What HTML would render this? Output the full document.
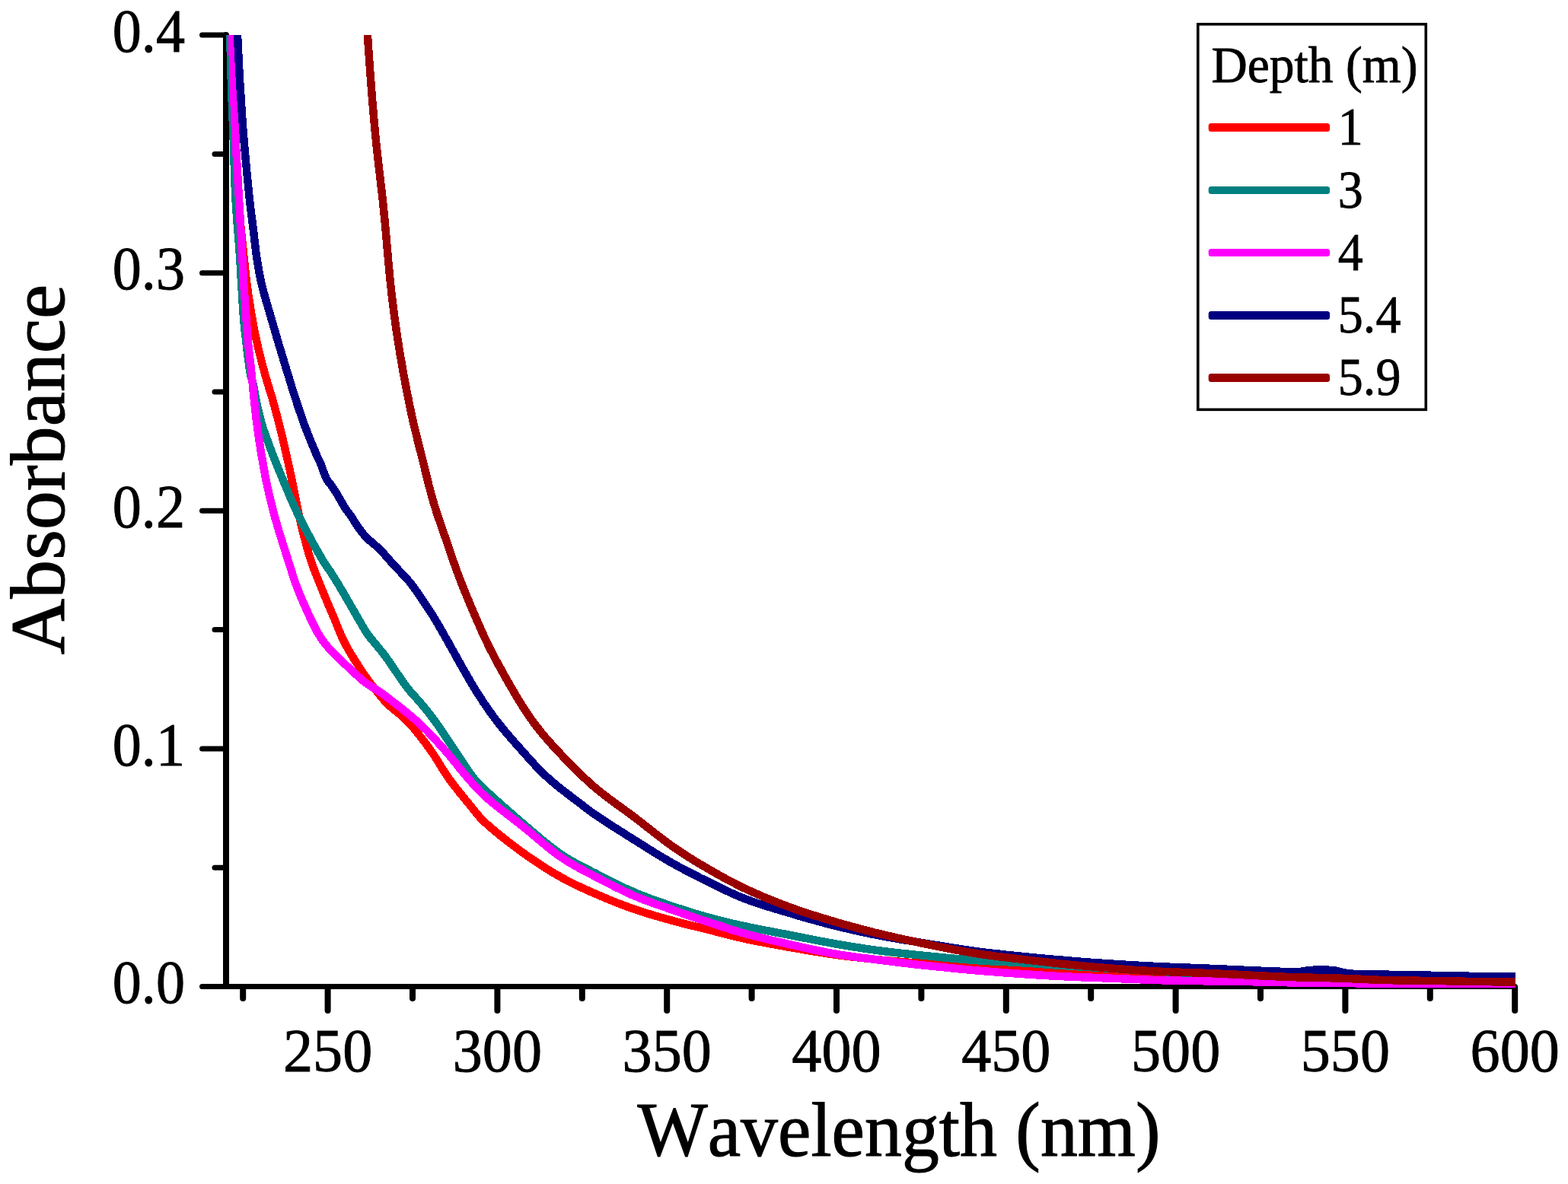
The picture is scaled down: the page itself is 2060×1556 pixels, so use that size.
<!DOCTYPE html>
<html lang="en"><head><meta charset="utf-8"><title>Absorbance vs Wavelength</title>
<style>
html,body{margin:0;padding:0;background:#fff;}
body{width:2060px;height:1556px;overflow:hidden;}
svg{display:block;font-family:"Liberation Serif",serif;fill:#000;font-kerning:none;}
.ax{stroke:#000;stroke-linecap:round;fill:none}
.axv{stroke-width:8}
.axh{stroke-width:7}
.cv{fill:none;stroke-width:10.5;stroke-linejoin:round;stroke-linecap:butt}
.tl{font-size:81.3px;stroke:#000;stroke-width:0.9px}
.lg{font-size:67.7px;stroke:#000;stroke-width:0.8px}
.ll{font-size:69.6px;stroke:#000;stroke-width:0.8px}
.at{font-size:101px;stroke:#000;stroke-width:1.1px}
</style></head><body>
<svg width="2060" height="1556" viewBox="0 0 2060 1556">
<rect width="2060" height="1556" fill="#fff"/>
<defs><clipPath id="plot"><rect x="297.0" y="46.0" width="1694.0" height="1252.0"/></clipPath></defs>
<g class="ax axv"><path d="M297.0 46.0 V1295.5"/></g>
<g class="ax axh"><path d="M297.0 1296.5 H1990.2"/></g>
<g class="ax axh">
<path d="M296.0 1296.5 H265.5"/>
<path d="M296.0 1140.2 H282.0"/>
<path d="M296.0 983.9 H265.5"/>
<path d="M296.0 827.6 H282.0"/>
<path d="M296.0 671.3 H265.5"/>
<path d="M296.0 515.0 H282.0"/>
<path d="M296.0 358.7 H265.5"/>
<path d="M296.0 202.4 H282.0"/>
<path d="M296.0 46.1 H265.5"/>
</g>
<g class="ax axv">
<path d="M319.2 1297.5 V1312.0"/>
<path d="M430.6 1297.5 V1328.0"/>
<path d="M542.0 1297.5 V1312.0"/>
<path d="M653.4 1297.5 V1328.0"/>
<path d="M764.8 1297.5 V1312.0"/>
<path d="M876.2 1297.5 V1328.0"/>
<path d="M987.6 1297.5 V1312.0"/>
<path d="M1099.0 1297.5 V1328.0"/>
<path d="M1210.4 1297.5 V1312.0"/>
<path d="M1321.8 1297.5 V1328.0"/>
<path d="M1433.2 1297.5 V1312.0"/>
<path d="M1544.6 1297.5 V1328.0"/>
<path d="M1656.0 1297.5 V1312.0"/>
<path d="M1767.4 1297.5 V1328.0"/>
<path d="M1878.8 1297.5 V1312.0"/>
<path d="M1990.2 1297.5 V1328.0"/>
</g>
<text class="tl" transform="translate(243.0 1318.2) scale(0.9370 1)" text-anchor="end">0.0</text>
<text class="tl" transform="translate(243.0 1005.6) scale(0.9370 1)" text-anchor="end">0.1</text>
<text class="tl" transform="translate(243.0 693.0) scale(0.9370 1)" text-anchor="end">0.2</text>
<text class="tl" transform="translate(243.0 380.4) scale(0.9370 1)" text-anchor="end">0.3</text>
<text class="tl" transform="translate(243.0 67.8) scale(0.9370 1)" text-anchor="end">0.4</text>
<text class="tl" transform="translate(430.6 1408.0) scale(0.9620 1)" text-anchor="middle">250</text>
<text class="tl" transform="translate(653.4 1408.0) scale(0.9620 1)" text-anchor="middle">300</text>
<text class="tl" transform="translate(876.2 1408.0) scale(0.9620 1)" text-anchor="middle">350</text>
<text class="tl" transform="translate(1099.0 1408.0) scale(0.9620 1)" text-anchor="middle">400</text>
<text class="tl" transform="translate(1321.8 1408.0) scale(0.9620 1)" text-anchor="middle">450</text>
<text class="tl" transform="translate(1544.6 1408.0) scale(0.9620 1)" text-anchor="middle">500</text>
<text class="tl" transform="translate(1767.4 1408.0) scale(0.9620 1)" text-anchor="middle">550</text>
<text class="tl" transform="translate(1990.2 1408.0) scale(0.9620 1)" text-anchor="middle">600</text>
<text class="at" transform="translate(837.4 1519.4) scale(0.9685 1)">Wavelength (nm)</text>
<text class="at" transform="translate(84.3 860.2) rotate(-90) scale(1.0085 1)">Absorbance</text>
<g clip-path="url(#plot)" shape-rendering="crispEdges">
<path class="cv" stroke="#ff0000" d="M302.5 20.0 302.9 25.0 303.2 30.0 303.5 35.0 303.7 40.0 304.0 45.0 304.1 50.0 304.3 55.0 304.4 59.9 304.6 64.9 304.7 69.9 304.9 74.9 305.0 79.9 305.1 84.9 305.3 89.9 305.4 94.9 305.6 99.9 305.7 104.9 305.9 109.9 306.1 114.9 306.3 119.9 306.4 124.9 306.6 129.9 306.8 134.9 307.0 139.9 307.2 144.9 307.4 149.9 307.6 154.9 307.8 159.9 308.1 164.9 308.3 169.9 308.5 174.9 308.7 179.9 309.0 184.9 309.2 189.9 309.5 194.9 309.7 199.8 310.0 204.8 310.2 209.8 310.5 214.8 310.7 219.8 311.0 224.8 311.3 229.8 311.6 234.8 311.9 239.8 312.1 244.8 312.4 249.8 312.8 254.8 313.1 259.7 313.4 264.7 313.8 269.7 314.2 274.7 314.6 279.7 315.1 284.7 315.6 289.6 316.0 294.6 316.5 299.6 317.0 304.6 317.5 309.6 318.0 314.5 318.5 319.5 319.1 324.5 319.6 329.4 320.1 334.4 320.7 339.4 321.2 344.4 321.7 349.3 322.2 354.3 322.7 359.3 323.3 364.2 323.9 369.2 324.5 374.2 325.2 379.1 325.8 384.1 326.6 389.0 327.3 394.0 328.1 398.9 328.9 403.9 329.7 408.8 330.5 413.7 331.4 418.6 332.2 423.6 333.1 428.5 334.1 433.4 335.1 438.3 336.1 443.2 337.1 448.1 338.3 453.0 339.4 457.8 340.6 462.7 341.8 467.5 343.0 472.4 344.2 477.2 345.5 482.1 346.8 486.9 348.1 491.7 349.4 496.5 350.9 501.3 352.3 506.1 353.8 510.9 355.3 515.7 356.8 520.4 358.2 525.2 359.5 530.1 360.8 534.9 362.1 539.7 363.4 544.5 364.7 549.4 365.9 554.2 367.2 559.1 368.4 563.9 369.6 568.8 370.7 573.6 371.9 578.5 373.0 583.4 374.1 588.2 375.2 593.1 376.3 598.0 377.4 602.9 378.5 607.8 379.6 612.6 380.7 617.5 381.7 622.4 382.8 627.3 383.8 632.2 384.8 637.1 385.8 642.0 386.7 646.9 387.7 651.8 388.6 656.7 389.6 661.6 390.6 666.5 391.6 671.4 392.6 676.3 393.7 681.2 394.8 686.1 396.0 690.9 397.2 695.8 398.4 700.6 399.6 705.5 400.9 710.3 402.1 715.2 403.4 720.0 404.8 724.8 406.2 729.6 407.7 734.4 409.3 739.1 411.0 743.8 412.7 748.5 414.5 753.2 416.3 757.8 418.2 762.5 420.0 767.1 421.9 771.8 423.8 776.4 425.7 781.0 427.6 785.6 429.5 790.2 431.5 794.8 433.4 799.4 435.4 804.0 437.4 808.6 439.3 813.3 441.2 817.9 443.0 822.5 444.9 827.2 446.8 831.8 448.8 836.4 450.9 840.9 453.1 845.4 455.5 849.8 457.9 854.2 460.5 858.5 463.1 862.7 465.7 867.0 468.4 871.2 471.1 875.4 473.8 879.6 476.6 883.8 479.4 887.9 482.3 892.0 485.3 896.0 488.3 900.0 491.4 903.9 494.4 907.9 497.5 911.8 500.6 915.7 503.9 919.5 507.3 923.2 510.8 926.7 514.5 930.0 518.4 933.2 522.3 936.4 526.2 939.5 529.9 942.8 533.6 946.2 537.1 949.8 540.4 953.5 543.7 957.3 546.9 961.2 550.0 965.1 553.1 969.0 556.1 973.0 559.2 976.9 562.1 981.0 565.1 985.0 567.9 989.1 570.7 993.3 573.4 997.5 576.0 1001.7 578.6 1006.0 581.2 1010.3 583.9 1014.5 586.7 1018.7 589.5 1022.8 592.5 1026.8 595.5 1030.8 598.5 1034.8 601.6 1038.7 604.7 1042.6 607.9 1046.5 611.0 1050.4 614.2 1054.3 617.4 1058.1 620.5 1062.0 623.6 1065.9 626.7 1069.8 630.0 1073.6 633.4 1077.3 637.0 1080.8 640.7 1084.1 644.5 1087.4 648.3 1090.6 652.1 1093.8 656.0 1097.0 659.9 1100.1 663.8 1103.2 667.8 1106.3 671.8 1109.3 675.7 1112.3 679.7 1115.3 683.8 1118.3 687.8 1121.2 691.9 1124.1 696.0 1127.0 700.1 1129.8 704.3 1132.6 708.4 1135.4 712.6 1138.1 716.8 1140.8 721.1 1143.4 725.3 1146.1 729.6 1148.6 734.0 1151.1 738.3 1153.6 742.7 1156.0 747.1 1158.3 751.6 1160.5 756.1 1162.8 760.6 1164.9 765.1 1167.0 769.7 1169.1 774.2 1171.1 778.8 1173.1 783.4 1175.1 788.0 1177.1 792.6 1179.1 797.2 1181.0 801.8 1182.9 806.5 1184.8 811.1 1186.6 815.8 1188.4 820.5 1190.2 825.2 1191.9 829.9 1193.6 834.6 1195.2 839.3 1196.8 844.1 1198.4 848.8 1199.9 853.6 1201.4 858.4 1202.8 863.2 1204.2 868.0 1205.6 872.8 1206.9 877.6 1208.3 882.5 1209.6 887.3 1210.9 892.1 1212.2 896.9 1213.5 901.8 1214.7 906.6 1215.9 911.5 1217.1 916.4 1218.3 921.2 1219.5 926.1 1220.7 930.9 1221.9 935.8 1223.1 940.6 1224.4 945.4 1225.6 950.3 1226.9 955.1 1228.1 960.0 1229.4 964.8 1230.6 969.7 1231.7 974.6 1232.8 979.4 1233.9 984.3 1235.0 989.2 1236.0 994.1 1236.9 999.1 1237.9 1004.0 1238.8 1008.9 1239.7 1013.8 1240.6 1018.7 1241.5 1023.6 1242.4 1028.6 1243.3 1033.5 1244.2 1038.4 1245.0 1043.3 1245.9 1048.3 1246.7 1053.2 1247.6 1058.1 1248.5 1063.0 1249.3 1068.0 1250.1 1072.9 1250.9 1077.8 1251.7 1082.8 1252.5 1087.7 1253.3 1092.7 1254.0 1097.6 1254.7 1102.6 1255.4 1107.5 1256.0 1112.5 1256.7 1117.5 1257.3 1122.4 1257.9 1127.4 1258.4 1132.4 1259.0 1137.3 1259.5 1142.3 1260.1 1147.3 1260.6 1152.2 1261.1 1157.2 1261.6 1162.2 1262.0 1167.2 1262.5 1172.2 1263.0 1177.1 1263.4 1182.1 1263.8 1187.1 1264.2 1192.1 1264.6 1197.1 1265.0 1202.1 1265.4 1207.0 1265.7 1212.0 1266.1 1217.0 1266.5 1222.0 1266.8 1227.0 1267.2 1232.0 1267.5 1237.0 1267.8 1242.0 1268.1 1247.0 1268.5 1251.9 1268.8 1256.9 1269.1 1261.9 1269.4 1266.9 1269.7 1271.9 1270.0 1276.9 1270.3 1281.9 1270.6 1286.9 1270.9 1291.9 1271.2 1296.9 1271.5 1301.9 1271.8 1306.8 1272.1 1311.8 1272.4 1316.8 1272.7 1321.8 1273.0 1326.8 1273.3 1331.8 1273.6 1336.8 1273.9 1341.8 1274.2 1346.8 1274.5 1351.8 1274.8 1356.8 1275.1 1361.7 1275.4 1366.7 1275.7 1371.7 1276.0 1376.7 1276.3 1381.7 1276.6 1386.7 1276.9 1391.7 1277.2 1396.7 1277.5 1401.7 1277.8 1406.7 1278.1 1411.7 1278.3 1416.7 1278.6 1421.6 1278.9 1426.6 1279.1 1431.6 1279.4 1436.6 1279.6 1441.6 1279.9 1446.6 1280.1 1451.6 1280.4 1456.6 1280.6 1461.6 1280.8 1466.6 1281.0 1471.6 1281.2 1476.6 1281.4 1481.6 1281.6 1486.6 1281.8 1491.6 1282.0 1496.6 1282.2 1501.6 1282.3 1506.6 1282.5 1511.6 1282.7 1516.6 1282.9 1521.6 1283.1 1526.6 1283.2 1531.5 1283.4 1536.5 1283.6 1541.5 1283.8 1546.5 1284.0 1551.5 1284.2 1556.5 1284.3 1561.5 1284.5 1566.5 1284.7 1571.5 1284.9 1576.5 1285.1 1581.5 1285.2 1586.5 1285.4 1591.5 1285.6 1596.5 1285.8 1601.5 1285.9 1606.5 1286.1 1611.5 1286.3 1616.5 1286.4 1621.5 1286.6 1626.5 1286.7 1631.5 1286.9 1636.5 1287.0 1641.5 1287.1 1646.5 1287.3 1651.5 1287.4 1656.5 1287.5 1661.5 1287.7 1666.5 1287.8 1671.5 1287.9 1676.5 1288.1 1681.5 1288.2 1686.5 1288.3 1691.5 1288.4 1696.5 1288.5 1701.5 1288.6 1706.5 1288.7 1711.5 1288.8 1716.5 1288.9 1721.5 1289.0 1726.5 1289.1 1731.5 1289.1 1736.5 1289.2 1741.5 1289.3 1746.5 1289.3 1751.5 1289.4 1756.5 1289.5 1761.5 1289.5 1766.5 1289.6 1771.5 1289.6 1776.5 1289.7 1781.5 1289.7 1786.5 1289.8 1791.5 1289.8 1796.5 1289.8 1801.5 1289.9 1806.5 1289.9 1811.5 1290.0 1816.5 1290.0 1821.5 1290.0 1826.5 1290.1 1831.5 1290.1 1836.5 1290.1 1841.5 1290.2 1846.5 1290.2 1851.5 1290.2 1856.5 1290.3 1861.5 1290.3 1866.5 1290.3 1871.5 1290.3 1876.5 1290.4 1881.5 1290.4 1886.5 1290.4 1891.5 1290.5 1896.5 1290.5 1901.5 1290.5 1906.5 1290.5 1911.5 1290.6 1916.5 1290.6 1921.5 1290.6 1926.5 1290.6 1931.5 1290.7 1936.5 1290.7 1941.5 1290.7 1946.5 1290.8 1951.5 1290.8 1956.5 1290.8 1961.5 1290.8 1966.5 1290.9 1971.5 1290.9 1976.5 1290.9 1981.5 1290.9 1986.5 1291.0 1991.5 1291.0 1996.6 1291.0 2001.8 1291.1 2006.7 1291.1 2008.4 1291.1 2005.5 1291.1 2000.1 1291.0 2000.1 1291.0"/>
<path class="cv" stroke="#008080" d="M301.5 20.0 301.6 25.0 301.8 30.0 301.9 35.0 302.0 40.0 302.2 45.0 302.3 50.0 302.4 55.0 302.6 60.0 302.7 65.0 302.8 70.0 302.9 75.0 303.1 80.0 303.2 85.0 303.3 90.0 303.5 95.0 303.6 100.0 303.8 105.0 303.9 110.0 304.1 115.0 304.2 120.0 304.4 125.0 304.6 130.0 304.8 135.0 305.0 139.9 305.2 144.9 305.4 149.9 305.6 154.9 305.8 159.9 306.0 164.9 306.2 169.9 306.4 174.9 306.6 179.9 306.8 184.9 307.0 189.9 307.1 194.9 307.3 199.9 307.4 204.9 307.6 209.9 307.7 214.9 307.9 219.9 308.0 224.9 308.2 229.9 308.4 234.9 308.5 239.9 308.7 244.9 309.0 249.9 309.2 254.9 309.4 259.9 309.7 264.9 310.0 269.8 310.4 274.8 310.7 279.8 311.1 284.8 311.4 289.8 311.8 294.8 312.2 299.8 312.6 304.8 313.0 309.7 313.4 314.7 313.8 319.7 314.2 324.7 314.5 329.7 314.9 334.7 315.2 339.7 315.5 344.6 315.9 349.6 316.2 354.6 316.4 359.6 316.7 364.6 317.0 369.6 317.3 374.6 317.6 379.6 317.9 384.6 318.2 389.6 318.5 394.6 318.8 399.5 319.1 404.5 319.4 409.5 319.8 414.5 320.2 419.5 320.6 424.5 321.1 429.5 321.6 434.4 322.2 439.4 322.8 444.4 323.4 449.3 323.9 454.3 324.5 459.3 325.1 464.2 325.7 469.2 326.4 474.1 327.0 479.1 327.7 484.1 328.4 489.0 329.4 493.9 330.8 498.7 332.2 503.5 333.4 508.3 334.2 513.3 335.1 518.2 336.0 523.1 336.9 528.0 338.0 532.9 339.1 537.8 340.2 542.6 341.4 547.5 342.7 552.4 344.0 557.2 345.4 562.0 347.0 566.7 348.8 571.4 350.5 576.1 352.2 580.8 353.9 585.5 355.6 590.2 357.3 594.9 359.1 599.5 361.0 604.2 362.8 608.8 364.7 613.5 366.6 618.1 368.5 622.7 370.4 627.4 372.3 632.0 374.2 636.6 376.1 641.2 378.1 645.8 380.0 650.4 382.0 655.0 384.0 659.6 386.0 664.2 388.1 668.7 390.2 673.2 392.4 677.8 394.6 682.2 396.8 686.7 399.1 691.1 401.4 695.6 403.8 700.0 406.1 704.4 408.5 708.8 410.9 713.2 413.3 717.6 415.8 721.9 418.2 726.3 420.7 730.6 423.2 734.9 425.8 739.2 428.6 743.4 431.5 747.5 434.3 751.6 437.0 755.8 439.6 760.0 442.3 764.3 444.9 768.6 447.4 772.9 450.0 777.2 452.5 781.5 455.0 785.8 457.5 790.1 460.0 794.5 462.5 798.8 465.0 803.1 467.5 807.5 470.0 811.8 472.5 816.1 475.0 820.5 477.4 824.8 480.0 829.1 482.8 833.3 485.8 837.3 488.9 841.1 492.1 845.0 495.3 848.8 498.5 852.7 501.7 856.5 504.8 860.5 507.8 864.5 510.6 868.6 513.5 872.7 516.3 876.8 519.1 880.9 521.9 885.1 524.7 889.2 527.5 893.4 530.4 897.5 533.3 901.5 536.4 905.5 539.6 909.3 542.9 913.0 546.3 916.7 549.7 920.4 552.9 924.2 556.1 928.1 559.3 931.9 562.4 935.8 565.5 939.8 568.5 943.8 571.5 947.8 574.4 951.8 577.2 955.9 580.1 960.1 582.9 964.2 585.6 968.4 588.4 972.5 591.2 976.7 594.0 980.8 596.8 985.0 599.6 989.1 602.3 993.3 605.1 997.5 607.9 1001.6 610.6 1005.8 613.4 1010.0 616.2 1014.1 619.1 1018.2 622.1 1022.2 625.2 1026.1 628.5 1029.8 632.1 1033.3 635.8 1036.7 639.5 1040.1 643.1 1043.5 646.8 1046.9 650.5 1050.2 654.3 1053.6 658.0 1056.9 661.7 1060.2 665.5 1063.5 669.2 1066.8 673.0 1070.1 676.7 1073.4 680.5 1076.7 684.3 1079.9 688.1 1083.2 691.9 1086.4 695.7 1089.7 699.5 1092.9 703.3 1096.2 707.2 1099.4 711.0 1102.6 714.8 1105.8 718.7 1108.9 722.6 1112.1 726.6 1115.1 730.6 1118.1 734.7 1121.0 738.8 1123.8 743.0 1126.6 747.2 1129.2 751.6 1131.7 755.9 1134.2 760.3 1136.5 764.7 1138.9 769.2 1141.1 773.6 1143.4 778.1 1145.7 782.6 1147.9 787.0 1150.2 791.5 1152.5 795.9 1154.8 800.4 1157.1 804.8 1159.3 809.3 1161.5 813.8 1163.7 818.3 1165.9 822.9 1168.0 827.4 1170.0 832.0 1172.0 836.6 1174.0 841.2 1175.9 845.9 1177.7 850.5 1179.5 855.2 1181.3 859.9 1183.0 864.6 1184.6 869.4 1186.3 874.1 1187.9 878.8 1189.5 883.6 1191.1 888.3 1192.7 893.1 1194.2 897.8 1195.8 902.6 1197.3 907.3 1198.8 912.1 1200.3 916.9 1201.7 921.7 1203.1 926.5 1204.5 931.3 1205.8 936.2 1207.1 941.0 1208.4 945.8 1209.6 950.7 1210.8 955.6 1212.0 960.4 1213.2 965.3 1214.3 970.2 1215.4 975.1 1216.5 979.9 1217.5 984.8 1218.6 989.7 1219.6 994.6 1220.6 999.5 1221.5 1004.4 1222.5 1009.4 1223.4 1014.3 1224.4 1019.2 1225.3 1024.1 1226.3 1029.0 1227.2 1033.9 1228.1 1038.8 1229.1 1043.7 1230.0 1048.6 1231.0 1053.5 1232.0 1058.4 1232.9 1063.3 1233.9 1068.3 1234.9 1073.2 1235.8 1078.1 1236.8 1083.0 1237.7 1087.9 1238.6 1092.8 1239.5 1097.7 1240.4 1102.7 1241.3 1107.6 1242.1 1112.5 1242.9 1117.5 1243.7 1122.4 1244.5 1127.3 1245.3 1132.3 1246.1 1137.2 1246.8 1142.2 1247.5 1147.1 1248.2 1152.1 1248.9 1157.0 1249.6 1162.0 1250.2 1167.0 1250.8 1171.9 1251.4 1176.9 1252.0 1181.9 1252.5 1186.8 1253.1 1191.8 1253.6 1196.8 1254.1 1201.7 1254.6 1206.7 1255.1 1211.7 1255.6 1216.7 1256.1 1221.6 1256.6 1226.6 1257.1 1231.6 1257.6 1236.6 1258.1 1241.5 1258.6 1246.5 1259.1 1251.5 1259.6 1256.5 1260.0 1261.5 1260.5 1266.4 1260.9 1271.4 1261.3 1276.4 1261.7 1281.4 1262.1 1286.4 1262.4 1291.4 1262.7 1296.4 1263.0 1301.4 1263.3 1306.4 1263.5 1311.3 1263.7 1316.3 1263.9 1321.3 1264.1 1326.3 1264.4 1331.3 1264.6 1336.3 1264.9 1341.3 1265.2 1346.3 1265.5 1351.3 1265.9 1356.3 1266.2 1361.3 1266.6 1366.2 1266.9 1371.2 1267.3 1376.2 1267.7 1381.2 1268.0 1386.2 1268.4 1391.2 1268.7 1396.2 1269.1 1401.2 1269.4 1406.2 1269.7 1411.1 1270.0 1416.1 1270.3 1421.1 1270.6 1426.1 1270.9 1431.1 1271.1 1436.1 1271.4 1441.1 1271.7 1446.1 1272.0 1451.1 1272.3 1456.1 1272.6 1461.1 1272.9 1466.0 1273.2 1471.0 1273.5 1476.0 1273.9 1481.0 1274.2 1486.0 1274.5 1491.0 1274.8 1496.0 1275.1 1501.0 1275.5 1506.0 1275.8 1511.0 1276.1 1515.9 1276.4 1520.9 1276.7 1525.9 1276.9 1530.9 1277.2 1535.9 1277.5 1540.9 1277.8 1545.9 1278.1 1550.9 1278.4 1555.9 1278.7 1560.9 1279.0 1565.9 1279.2 1570.9 1279.5 1575.8 1279.8 1580.8 1280.1 1585.8 1280.4 1590.8 1280.6 1595.8 1280.9 1600.8 1281.2 1605.8 1281.5 1610.8 1281.7 1615.8 1282.0 1620.8 1282.2 1625.8 1282.5 1630.8 1282.7 1635.8 1283.0 1640.8 1283.2 1645.8 1283.4 1650.7 1283.7 1655.7 1283.9 1660.7 1284.2 1665.7 1284.4 1670.7 1284.7 1675.7 1284.9 1680.7 1285.2 1685.7 1285.4 1690.7 1285.6 1695.7 1285.9 1700.7 1286.1 1705.7 1286.3 1710.7 1286.5 1715.7 1286.6 1720.7 1286.8 1725.7 1287.0 1730.7 1287.2 1735.7 1287.3 1740.7 1287.5 1745.7 1287.6 1750.7 1287.8 1755.7 1287.9 1760.7 1288.0 1765.7 1288.1 1770.7 1288.3 1775.7 1288.4 1780.7 1288.5 1785.7 1288.6 1790.7 1288.7 1795.7 1288.8 1800.7 1288.9 1805.7 1289.0 1810.6 1289.1 1815.6 1289.2 1820.6 1289.3 1825.6 1289.4 1830.6 1289.4 1835.6 1289.5 1840.6 1289.6 1845.6 1289.7 1850.6 1289.8 1855.6 1289.9 1860.6 1290.0 1865.6 1290.0 1870.6 1290.1 1875.6 1290.2 1880.6 1290.3 1885.6 1290.4 1890.6 1290.4 1895.6 1290.5 1900.6 1290.6 1905.6 1290.7 1910.6 1290.8 1915.6 1290.8 1920.6 1290.9 1925.6 1291.0 1930.6 1291.1 1935.6 1291.1 1940.6 1291.2 1945.6 1291.3 1950.6 1291.4 1955.6 1291.4 1960.6 1291.5 1965.6 1291.6 1970.6 1291.7 1975.6 1291.8 1980.6 1291.8 1985.6 1291.9 1990.6 1292.0 1995.6 1292.1 2000.8 1292.2 2006.0 1292.2 2008.9 1292.3 2006.3 1292.2 2000.9 1292.0 2000.9 1292.0"/>
<path class="cv" stroke="#ff00ff" d="M303.4 20.0 303.8 25.0 304.2 30.0 304.5 35.0 304.7 40.0 305.0 44.9 305.1 49.9 305.3 54.9 305.4 59.9 305.5 64.9 305.7 69.9 305.8 74.9 305.9 79.9 306.0 84.9 306.1 89.9 306.3 94.9 306.4 99.9 306.6 104.9 306.7 109.9 306.9 114.9 307.0 119.9 307.2 124.9 307.4 129.9 307.6 134.9 307.8 139.9 307.9 144.9 308.1 149.9 308.3 154.9 308.5 159.9 308.8 164.9 309.0 169.9 309.2 174.9 309.4 179.9 309.7 184.9 309.9 189.9 310.2 194.9 310.4 199.8 310.7 204.8 311.0 209.8 311.3 214.8 311.6 219.8 311.9 224.8 312.2 229.8 312.4 234.8 312.7 239.8 313.0 244.8 313.3 249.8 313.6 254.8 313.9 259.7 314.2 264.7 314.5 269.7 314.8 274.7 315.1 279.7 315.4 284.7 315.6 289.7 315.9 294.7 316.2 299.7 316.5 304.7 316.8 309.7 317.0 314.7 317.3 319.6 317.6 324.6 317.9 329.6 318.1 334.6 318.4 339.6 318.7 344.6 318.9 349.6 319.2 354.6 319.4 359.6 319.7 364.6 320.0 369.6 320.3 374.6 320.7 379.6 321.0 384.5 321.4 389.5 321.8 394.5 322.2 399.5 322.5 404.5 322.9 409.5 323.3 414.5 323.6 419.4 324.0 424.4 324.3 429.4 324.7 434.4 325.0 439.4 325.5 444.4 325.9 449.4 326.4 454.3 327.0 459.3 327.5 464.3 328.1 469.2 328.6 474.2 329.2 479.2 329.8 484.1 330.3 489.1 330.8 494.1 331.3 499.1 331.8 504.0 332.3 509.0 332.7 514.0 333.2 519.0 333.7 523.9 334.3 528.9 334.8 533.9 335.3 538.9 335.9 543.8 336.5 548.8 337.0 553.8 337.7 558.7 338.3 563.7 339.0 568.6 339.7 573.6 340.5 578.5 341.2 583.5 342.0 588.4 342.8 593.3 343.6 598.3 344.5 603.2 345.3 608.1 346.2 613.1 347.1 618.0 348.0 622.9 348.9 627.8 349.9 632.7 350.9 637.6 352.0 642.5 353.1 647.4 354.2 652.2 355.4 657.1 356.6 662.0 357.8 666.8 359.0 671.7 360.3 676.5 361.6 681.3 363.0 686.1 364.4 690.9 365.8 695.7 367.2 700.5 368.7 705.3 370.2 710.1 371.7 714.8 373.2 719.6 374.7 724.4 376.2 729.1 377.8 733.9 379.3 738.6 380.8 743.4 382.3 748.2 383.8 752.9 385.3 757.7 386.9 762.4 388.5 767.2 390.3 771.9 392.1 776.5 393.9 781.2 395.9 785.8 397.8 790.4 399.9 794.9 401.9 799.5 404.0 804.1 406.0 808.6 408.1 813.2 410.3 817.7 412.5 822.2 414.7 826.6 417.1 831.0 419.7 835.3 422.4 839.5 425.3 843.6 428.4 847.5 431.6 851.4 434.9 855.1 438.3 858.7 441.9 862.3 445.5 865.7 449.1 869.1 452.8 872.5 456.5 875.9 460.2 879.3 463.8 882.7 467.5 886.1 471.1 889.6 474.8 892.9 478.7 896.1 482.7 899.0 487.0 901.7 491.3 904.3 495.5 906.9 499.7 909.7 503.7 912.6 507.7 915.6 511.7 918.6 515.6 921.7 519.6 924.7 523.5 927.8 527.5 930.9 531.4 934.1 535.2 937.2 539.1 940.4 542.9 943.6 546.7 946.9 550.4 950.3 554.0 953.7 557.6 957.2 561.2 960.7 564.6 964.3 568.1 967.9 571.5 971.6 574.8 975.3 578.2 979.0 581.5 982.7 584.9 986.5 588.1 990.2 591.4 994.0 594.5 997.9 597.7 1001.8 600.8 1005.7 603.9 1009.6 607.1 1013.5 610.3 1017.3 613.5 1021.1 616.8 1024.9 620.1 1028.7 623.4 1032.4 626.8 1036.1 630.2 1039.7 633.8 1043.2 637.5 1046.6 641.2 1049.9 645.0 1053.2 648.9 1056.4 652.8 1059.5 656.7 1062.6 660.6 1065.7 664.6 1068.7 668.5 1071.8 672.5 1074.9 676.4 1077.9 680.4 1081.0 684.3 1084.1 688.2 1087.2 692.1 1090.3 696.0 1093.5 699.8 1096.7 703.6 1100.0 707.4 1103.2 711.3 1106.4 715.1 1109.6 719.0 1112.8 722.8 1116.0 726.8 1119.0 730.8 1122.1 734.8 1125.0 738.9 1127.8 743.1 1130.6 747.4 1133.2 751.7 1135.7 756.0 1138.2 760.4 1140.6 764.8 1143.0 769.2 1145.3 773.7 1147.6 778.1 1149.9 782.5 1152.2 787.0 1154.5 791.4 1156.8 795.8 1159.2 800.3 1161.5 804.7 1163.7 809.2 1166.0 813.7 1168.2 818.2 1170.4 822.7 1172.5 827.2 1174.6 831.8 1176.7 836.4 1178.6 841.0 1180.5 845.7 1182.4 850.3 1184.1 855.0 1185.8 859.8 1187.5 864.5 1189.2 869.2 1190.8 873.9 1192.4 878.6 1194.1 883.4 1195.7 888.1 1197.4 892.8 1199.0 897.5 1200.7 902.3 1202.3 907.0 1203.9 911.7 1205.5 916.5 1207.1 921.2 1208.7 926.0 1210.2 930.7 1211.8 935.5 1213.4 940.2 1214.9 945.0 1216.5 949.7 1218.1 954.5 1219.6 959.2 1221.1 964.0 1222.6 968.8 1224.1 973.6 1225.5 978.4 1226.8 983.2 1228.1 988.1 1229.4 992.9 1230.6 997.8 1231.8 1002.6 1233.0 1007.5 1234.2 1012.3 1235.4 1017.2 1236.5 1022.1 1237.6 1027.0 1238.7 1031.8 1239.9 1036.7 1241.0 1041.6 1242.1 1046.5 1243.2 1051.3 1244.2 1056.2 1245.3 1061.1 1246.4 1066.0 1247.5 1070.9 1248.5 1075.8 1249.5 1080.7 1250.5 1085.6 1251.5 1090.5 1252.4 1095.4 1253.3 1100.3 1254.1 1105.3 1255.0 1110.2 1255.7 1115.2 1256.4 1120.1 1257.1 1125.1 1257.8 1130.0 1258.5 1135.0 1259.1 1139.9 1259.7 1144.9 1260.3 1149.9 1261.0 1154.8 1261.6 1159.8 1262.2 1164.8 1262.8 1169.7 1263.5 1174.7 1264.1 1179.6 1264.7 1184.6 1265.3 1189.6 1265.9 1194.5 1266.4 1199.5 1267.0 1204.5 1267.6 1209.4 1268.1 1214.4 1268.7 1219.4 1269.2 1224.4 1269.7 1229.3 1270.2 1234.3 1270.7 1239.3 1271.2 1244.3 1271.7 1249.2 1272.2 1254.2 1272.7 1259.2 1273.2 1264.2 1273.7 1269.1 1274.1 1274.1 1274.6 1279.1 1275.0 1284.1 1275.5 1289.1 1275.9 1294.0 1276.3 1299.0 1276.7 1304.0 1277.1 1309.0 1277.5 1314.0 1277.9 1319.0 1278.3 1324.0 1278.7 1328.9 1279.0 1333.9 1279.4 1338.9 1279.7 1343.9 1280.1 1348.9 1280.4 1353.9 1280.7 1358.9 1281.1 1363.9 1281.4 1368.9 1281.7 1373.8 1282.0 1378.8 1282.3 1383.8 1282.5 1388.8 1282.8 1393.8 1283.1 1398.8 1283.3 1403.8 1283.5 1408.8 1283.8 1413.8 1284.0 1418.8 1284.2 1423.8 1284.4 1428.8 1284.5 1433.8 1284.7 1438.8 1284.9 1443.8 1285.1 1448.8 1285.3 1453.8 1285.5 1458.8 1285.7 1463.8 1285.9 1468.8 1286.1 1473.7 1286.3 1478.7 1286.5 1483.7 1286.7 1488.7 1286.9 1493.7 1287.1 1498.7 1287.3 1503.7 1287.5 1508.7 1287.7 1513.7 1287.9 1518.7 1288.1 1523.7 1288.2 1528.7 1288.3 1533.7 1288.5 1538.7 1288.6 1543.7 1288.7 1548.7 1288.7 1553.7 1288.8 1558.7 1288.9 1563.7 1289.0 1568.7 1289.0 1573.7 1289.1 1578.7 1289.2 1583.7 1289.3 1588.7 1289.4 1593.7 1289.4 1598.7 1289.5 1603.7 1289.6 1608.7 1289.7 1613.7 1289.7 1618.7 1289.8 1623.7 1289.9 1628.7 1290.0 1633.7 1290.1 1638.7 1290.1 1643.7 1290.2 1648.7 1290.3 1653.7 1290.5 1658.7 1290.6 1663.7 1290.7 1668.7 1290.8 1673.7 1290.9 1678.7 1291.0 1683.7 1291.1 1688.7 1291.2 1693.7 1291.3 1698.7 1291.4 1703.7 1291.4 1708.7 1291.5 1713.7 1291.5 1718.7 1291.6 1723.7 1291.7 1728.7 1291.7 1733.7 1291.7 1738.7 1291.8 1743.7 1291.8 1748.7 1291.9 1753.7 1291.9 1758.7 1292.0 1763.7 1292.0 1768.7 1292.1 1773.7 1292.2 1778.7 1292.2 1783.7 1292.3 1788.7 1292.3 1793.7 1292.4 1798.7 1292.4 1803.7 1292.5 1808.7 1292.5 1813.7 1292.6 1818.7 1292.6 1823.7 1292.6 1828.7 1292.7 1833.7 1292.7 1838.7 1292.7 1843.7 1292.7 1848.7 1292.7 1853.7 1292.7 1858.7 1292.7 1863.7 1292.8 1868.7 1292.8 1873.7 1292.8 1878.7 1292.8 1883.7 1292.8 1888.7 1292.8 1893.7 1292.8 1898.7 1292.8 1903.7 1292.8 1908.7 1292.8 1913.7 1292.8 1918.7 1292.8 1923.7 1292.8 1928.7 1292.8 1933.7 1292.8 1938.7 1292.8 1943.7 1292.8 1948.7 1292.8 1953.7 1292.8 1958.7 1292.8 1963.7 1292.8 1968.7 1292.8 1973.7 1292.8 1978.7 1292.8 1983.7 1292.8 1988.7 1292.8 1993.7 1292.8 1998.2 1292.8 2000.6 1292.8"/>
<path class="cv" stroke="#000080" d="M310.3 20.0 310.6 25.0 311.0 30.0 311.3 35.0 311.6 40.0 311.9 44.9 312.2 49.9 312.4 54.9 312.7 59.9 312.9 64.9 313.2 69.9 313.4 74.9 313.7 79.9 313.9 84.9 314.2 89.9 314.5 94.9 314.7 99.9 315.0 104.9 315.3 109.9 315.6 114.8 315.9 119.8 316.3 124.8 316.6 129.8 316.9 134.8 317.2 139.8 317.6 144.8 317.9 149.8 318.2 154.8 318.6 159.8 319.0 164.7 319.3 169.7 319.7 174.7 320.1 179.7 320.5 184.7 320.9 189.7 321.4 194.6 321.8 199.6 322.3 204.6 322.7 209.6 323.2 214.6 323.7 219.5 324.1 224.5 324.6 229.5 325.1 234.5 325.6 239.4 326.1 244.4 326.6 249.4 327.1 254.4 327.6 259.3 328.2 264.3 328.7 269.3 329.3 274.2 329.9 279.2 330.5 284.2 331.2 289.1 331.9 294.1 332.5 299.0 333.1 304.0 333.7 309.0 334.2 313.9 334.8 318.9 335.4 323.9 336.0 328.8 336.6 333.8 337.3 338.7 338.1 343.7 338.9 348.6 339.8 353.5 340.6 358.5 341.6 363.4 342.6 368.3 343.7 373.2 344.8 378.0 346.1 382.9 347.4 387.7 348.8 392.5 350.2 397.3 351.6 402.1 353.0 406.9 354.4 411.7 355.8 416.5 357.2 421.3 358.6 426.1 360.0 430.9 361.4 435.7 362.8 440.5 364.2 445.3 365.6 450.1 367.0 454.9 368.5 459.7 369.9 464.4 371.4 469.2 372.8 474.0 374.3 478.8 375.7 483.6 377.2 488.4 378.7 493.1 380.1 497.9 381.6 502.7 383.0 507.5 384.5 512.3 386.0 517.0 387.5 521.8 389.1 526.6 390.6 531.3 392.2 536.1 393.8 540.8 395.4 545.5 397.0 550.3 398.7 555.0 400.4 559.7 402.2 564.3 404.0 569.0 405.9 573.6 407.7 578.3 409.6 582.9 411.6 587.5 413.5 592.1 415.4 596.7 417.4 601.3 419.6 605.8 421.7 610.4 423.4 615.1 425.1 619.8 426.8 624.5 428.8 629.0 431.5 633.2 434.7 637.1 437.6 641.2 440.3 645.4 442.9 649.6 445.4 654.0 447.9 658.3 450.4 662.6 453.0 666.9 455.8 671.0 458.8 675.0 461.7 679.1 464.4 683.3 467.1 687.5 469.9 691.7 472.7 695.8 475.7 699.8 478.9 703.7 482.3 707.3 486.0 710.6 489.9 713.8 493.6 717.1 497.3 720.5 500.9 724.0 504.4 727.6 507.6 731.4 510.9 735.2 514.2 739.0 517.5 742.6 521.0 746.3 524.4 749.9 527.9 753.5 531.3 757.2 534.6 760.9 538.0 764.6 541.1 768.5 544.0 772.6 546.9 776.6 549.8 780.8 552.6 784.9 555.4 789.0 558.2 793.2 560.9 797.3 563.7 801.5 566.4 805.7 569.1 809.9 571.7 814.2 574.3 818.5 576.8 822.8 579.3 827.1 581.8 831.5 584.2 835.8 586.7 840.2 589.2 844.5 591.6 848.9 594.0 853.3 596.5 857.6 598.9 862.0 601.3 866.4 603.8 870.7 606.2 875.1 608.7 879.4 611.2 883.8 613.7 888.1 616.2 892.4 618.7 896.8 621.2 901.1 623.8 905.3 626.5 909.6 629.1 913.8 631.9 918.0 634.6 922.2 637.4 926.3 640.3 930.4 643.1 934.5 646.0 938.6 649.0 942.6 652.0 946.6 655.1 950.6 658.2 954.5 661.3 958.4 664.5 962.2 667.8 966.0 671.0 969.8 674.3 973.6 677.6 977.3 680.9 981.1 684.3 984.8 687.6 988.5 690.9 992.3 694.3 996.0 697.6 999.7 701.0 1003.4 704.4 1007.1 707.8 1010.7 711.3 1014.2 714.9 1017.7 718.6 1021.1 722.3 1024.5 726.1 1027.7 729.9 1030.9 733.8 1034.1 737.7 1037.2 741.7 1040.3 745.6 1043.3 749.6 1046.4 753.6 1049.4 757.6 1052.4 761.5 1055.4 765.5 1058.5 769.5 1061.6 773.4 1064.6 777.4 1067.6 781.5 1070.5 785.7 1073.2 789.8 1076.0 794.0 1078.7 798.2 1081.5 802.4 1084.2 806.6 1086.9 810.9 1089.6 815.1 1092.2 819.3 1094.9 823.5 1097.6 827.7 1100.3 832.0 1102.9 836.2 1105.6 840.5 1108.2 844.7 1110.9 848.9 1113.6 853.1 1116.2 857.4 1118.9 861.6 1121.5 865.9 1124.1 870.2 1126.7 874.5 1129.2 878.8 1131.8 883.1 1134.2 887.5 1136.7 891.9 1139.1 896.3 1141.5 900.7 1143.8 905.2 1146.1 909.6 1148.4 914.1 1150.6 918.5 1152.9 923.0 1155.1 927.5 1157.3 932.0 1159.5 936.5 1161.7 940.9 1164.0 945.4 1166.2 949.9 1168.4 954.4 1170.6 958.9 1172.7 963.5 1174.8 968.0 1176.8 972.7 1178.8 977.3 1180.6 982.0 1182.4 986.7 1184.1 991.4 1185.8 996.1 1187.4 1000.9 1188.9 1005.6 1190.5 1010.4 1191.9 1015.2 1193.4 1020.0 1194.8 1024.8 1196.3 1029.6 1197.7 1034.3 1199.1 1039.1 1200.5 1043.9 1202.0 1048.7 1203.4 1053.5 1204.8 1058.3 1206.2 1063.1 1207.5 1068.0 1208.9 1072.8 1210.2 1077.6 1211.5 1082.4 1212.8 1087.3 1214.1 1092.1 1215.3 1097.0 1216.6 1101.8 1217.8 1106.7 1218.9 1111.5 1220.1 1116.4 1221.2 1121.3 1222.3 1126.2 1223.4 1131.0 1224.5 1135.9 1225.5 1140.8 1226.6 1145.7 1227.6 1150.6 1228.5 1155.5 1229.5 1160.4 1230.5 1165.4 1231.4 1170.3 1232.3 1175.2 1233.1 1180.1 1234.0 1185.1 1234.8 1190.0 1235.6 1194.9 1236.4 1199.9 1237.2 1204.8 1238.0 1209.7 1238.8 1214.7 1239.6 1219.6 1240.4 1224.6 1241.2 1229.5 1242.0 1234.4 1242.8 1239.4 1243.6 1244.3 1244.4 1249.2 1245.2 1254.2 1246.0 1259.1 1246.7 1264.1 1247.5 1269.0 1248.2 1273.9 1249.0 1278.9 1249.6 1283.9 1250.3 1288.8 1251.0 1293.8 1251.6 1298.7 1252.2 1303.7 1252.7 1308.7 1253.3 1313.6 1253.8 1318.6 1254.4 1323.6 1254.9 1328.6 1255.4 1333.5 1255.9 1338.5 1256.4 1343.5 1256.9 1348.5 1257.4 1353.4 1257.9 1358.4 1258.4 1363.4 1258.9 1368.4 1259.3 1373.3 1259.8 1378.3 1260.2 1383.3 1260.7 1388.3 1261.1 1393.3 1261.5 1398.3 1261.9 1403.2 1262.4 1408.2 1262.8 1413.2 1263.2 1418.2 1263.6 1423.2 1264.0 1428.2 1264.4 1433.1 1264.8 1438.1 1265.1 1443.1 1265.5 1448.1 1265.8 1453.1 1266.2 1458.1 1266.5 1463.1 1266.8 1468.1 1267.1 1473.0 1267.5 1478.0 1267.7 1483.0 1268.0 1488.0 1268.3 1493.0 1268.6 1498.0 1268.9 1503.0 1269.1 1508.0 1269.4 1513.0 1269.7 1518.0 1269.9 1523.0 1270.1 1528.0 1270.4 1533.0 1270.6 1538.0 1270.8 1543.0 1271.0 1548.0 1271.2 1553.0 1271.3 1557.9 1271.5 1562.9 1271.7 1567.9 1271.9 1572.9 1272.1 1577.9 1272.3 1582.9 1272.5 1587.9 1272.7 1592.9 1272.9 1597.9 1273.2 1602.9 1273.4 1607.9 1273.6 1612.9 1273.8 1617.9 1274.1 1622.9 1274.3 1627.9 1274.5 1632.9 1274.7 1637.9 1275.0 1642.9 1275.2 1647.9 1275.4 1652.9 1275.6 1657.9 1275.8 1662.9 1276.0 1667.8 1276.2 1672.8 1276.4 1677.8 1276.6 1682.8 1276.8 1687.8 1277.0 1692.8 1277.1 1697.8 1277.2 1702.8 1277.3 1707.8 1277.1 1712.7 1276.3 1717.6 1275.2 1722.6 1274.8 1727.6 1274.7 1732.6 1274.6 1737.6 1274.6 1742.6 1274.7 1747.6 1274.8 1752.6 1275.1 1757.4 1276.2 1762.2 1277.5 1767.1 1278.6 1772.1 1279.4 1777.0 1279.7 1782.0 1279.9 1787.0 1280.1 1792.0 1280.2 1797.0 1280.2 1802.0 1280.3 1807.0 1280.4 1812.0 1280.5 1817.0 1280.6 1822.0 1280.7 1827.0 1280.8 1832.0 1280.9 1837.0 1281.0 1842.0 1281.1 1847.0 1281.2 1852.0 1281.3 1857.0 1281.4 1862.0 1281.5 1867.0 1281.6 1872.0 1281.7 1877.0 1281.7 1882.0 1281.8 1887.0 1281.9 1892.0 1282.0 1897.0 1282.1 1902.0 1282.2 1907.0 1282.3 1912.0 1282.4 1917.0 1282.5 1922.0 1282.6 1927.0 1282.7 1932.0 1282.8 1937.0 1282.8 1942.0 1282.9 1947.0 1282.9 1952.0 1282.9 1957.0 1283.0 1962.0 1283.0 1967.0 1283.0 1972.0 1283.0 1977.0 1283.0 1982.0 1283.1 1987.0 1283.1 1992.0 1283.1 1997.0 1283.1 1999.0 1283.1"/>
<path class="cv" stroke="#990000" d="M481.2 20.0 481.5 25.0 481.8 30.0 482.2 35.0 482.5 40.0 482.8 44.9 483.2 49.9 483.5 54.9 483.8 59.9 484.2 64.9 484.5 69.9 484.9 74.9 485.2 79.9 485.6 84.9 486.0 89.8 486.3 94.8 486.7 99.8 487.1 104.8 487.5 109.8 487.8 114.8 488.2 119.8 488.6 124.7 489.0 129.7 489.4 134.7 489.9 139.7 490.3 144.7 490.7 149.7 491.1 154.6 491.6 159.6 492.0 164.6 492.5 169.6 492.9 174.5 493.4 179.5 493.9 184.5 494.4 189.5 495.0 194.4 495.5 199.4 496.1 204.4 496.6 209.4 497.2 214.3 497.7 219.3 498.3 224.3 498.9 229.2 499.5 234.2 500.1 239.2 500.6 244.1 501.2 249.1 501.8 254.1 502.3 259.0 502.9 264.0 503.4 269.0 503.9 273.9 504.4 278.9 504.9 283.9 505.4 288.9 505.9 293.8 506.3 298.8 506.8 303.8 507.2 308.8 507.7 313.8 508.1 318.7 508.5 323.7 508.9 328.7 509.4 333.7 509.8 338.7 510.2 343.7 510.7 348.6 511.2 353.6 511.6 358.6 512.1 363.6 512.6 368.5 513.1 373.5 513.7 378.5 514.2 383.5 514.8 388.4 515.4 393.4 516.0 398.4 516.6 403.3 517.2 408.3 517.9 413.2 518.5 418.2 519.2 423.1 519.9 428.1 520.6 433.0 521.3 438.0 522.1 442.9 522.8 447.9 523.6 452.8 524.4 457.8 525.2 462.7 526.0 467.6 526.9 472.5 527.7 477.5 528.6 482.4 529.4 487.3 530.3 492.2 531.2 497.2 532.2 502.1 533.1 507.0 534.0 511.9 535.0 516.8 536.0 521.7 537.0 526.6 537.9 531.5 539.0 536.4 540.0 541.3 541.0 546.2 542.1 551.1 543.2 555.9 544.3 560.8 545.5 565.7 546.7 570.5 547.9 575.4 549.1 580.2 550.3 585.1 551.5 589.9 552.8 594.8 554.0 599.6 555.2 604.5 556.4 609.3 557.6 614.2 558.8 619.1 560.0 623.9 561.2 628.8 562.4 633.6 563.6 638.5 564.9 643.3 566.1 648.1 567.5 652.9 568.8 657.8 570.3 662.5 571.7 667.3 573.2 672.1 574.8 676.8 576.4 681.6 578.0 686.3 579.6 691.0 581.3 695.7 582.9 700.5 584.6 705.2 586.2 709.9 587.8 714.6 589.5 719.4 591.1 724.1 592.7 728.8 594.3 733.6 595.9 738.3 597.6 743.0 599.2 747.7 601.0 752.4 602.7 757.1 604.5 761.8 606.3 766.4 608.1 771.1 610.0 775.7 611.9 780.3 613.8 785.0 615.7 789.6 617.6 794.2 619.6 798.8 621.5 803.4 623.5 808.0 625.5 812.6 627.5 817.2 629.5 821.8 631.5 826.3 633.5 830.9 635.6 835.4 637.7 840.0 639.9 844.5 642.1 849.0 644.3 853.4 646.6 857.9 648.9 862.3 651.2 866.8 653.6 871.2 656.0 875.6 658.4 879.9 660.8 884.3 663.2 888.7 665.7 893.0 668.2 897.4 670.6 901.7 673.2 906.0 675.7 910.4 678.2 914.7 680.8 919.0 683.4 923.2 686.1 927.5 688.8 931.7 691.5 935.9 694.3 940.0 697.1 944.1 700.1 948.2 703.0 952.2 706.1 956.1 709.2 960.0 712.3 963.9 715.5 967.8 718.8 971.5 722.1 975.3 725.4 979.0 728.8 982.7 732.2 986.4 735.6 990.0 739.1 993.7 742.5 997.3 746.0 1000.8 749.5 1004.4 753.0 1008.0 756.6 1011.5 760.1 1015.0 763.7 1018.5 767.3 1022.0 771.0 1025.4 774.7 1028.7 778.4 1032.1 782.2 1035.3 786.0 1038.5 789.9 1041.6 793.8 1044.7 797.8 1047.8 801.8 1050.8 805.8 1053.7 809.8 1056.7 813.9 1059.6 817.9 1062.5 822.0 1065.5 826.0 1068.4 830.0 1071.4 834.0 1074.4 838.0 1077.5 842.0 1080.5 845.9 1083.6 849.8 1086.7 853.8 1089.8 857.7 1092.8 861.6 1095.9 865.6 1099.0 869.6 1102.0 873.5 1105.0 877.6 1108.0 881.6 1110.9 885.7 1113.8 889.8 1116.7 894.0 1119.4 898.1 1122.2 902.3 1124.9 906.6 1127.6 910.8 1130.2 915.1 1132.8 919.4 1135.4 923.7 1137.9 928.0 1140.4 932.3 1143.0 936.7 1145.4 941.0 1147.9 945.4 1150.4 949.7 1152.8 954.1 1155.2 958.5 1157.5 963.0 1159.8 967.4 1162.1 971.9 1164.4 976.4 1166.6 980.9 1168.7 985.4 1170.8 990.0 1172.9 994.5 1174.9 999.1 1176.9 1003.7 1178.9 1008.3 1180.8 1013.0 1182.7 1017.6 1184.6 1022.2 1186.4 1026.9 1188.2 1031.6 1190.0 1036.3 1191.7 1041.0 1193.4 1045.7 1195.1 1050.4 1196.7 1055.1 1198.3 1059.9 1199.9 1064.6 1201.5 1069.4 1203.0 1074.2 1204.5 1078.9 1206.0 1083.7 1207.4 1088.5 1208.9 1093.3 1210.3 1098.1 1211.7 1102.9 1213.1 1107.7 1214.5 1112.5 1215.8 1117.4 1217.2 1122.2 1218.5 1127.0 1219.8 1131.8 1221.1 1136.7 1222.4 1141.5 1223.6 1146.4 1224.9 1151.2 1226.1 1156.1 1227.3 1160.9 1228.4 1165.8 1229.6 1170.7 1230.7 1175.5 1231.8 1180.4 1232.9 1185.3 1234.0 1190.2 1235.1 1195.1 1236.1 1200.0 1237.2 1204.8 1238.2 1209.7 1239.2 1214.6 1240.2 1219.5 1241.2 1224.4 1242.3 1229.3 1243.3 1234.2 1244.2 1239.1 1245.2 1244.0 1246.2 1248.9 1247.2 1253.9 1248.1 1258.8 1249.0 1263.7 1249.9 1268.6 1250.8 1273.5 1251.6 1278.5 1252.4 1283.4 1253.2 1288.4 1254.0 1293.3 1254.7 1298.2 1255.4 1303.2 1256.0 1308.2 1256.7 1313.1 1257.3 1318.1 1257.9 1323.1 1258.5 1328.0 1259.1 1333.0 1259.7 1338.0 1260.2 1342.9 1260.8 1347.9 1261.4 1352.9 1262.0 1357.8 1262.5 1362.8 1263.1 1367.8 1263.7 1372.7 1264.2 1377.7 1264.8 1382.7 1265.3 1387.6 1265.9 1392.6 1266.4 1397.6 1266.9 1402.6 1267.4 1407.5 1267.9 1412.5 1268.4 1417.5 1268.9 1422.5 1269.3 1427.4 1269.8 1432.4 1270.2 1437.4 1270.7 1442.4 1271.1 1447.4 1271.5 1452.4 1271.9 1457.3 1272.3 1462.3 1272.7 1467.3 1273.1 1472.3 1273.5 1477.3 1273.8 1482.3 1274.2 1487.3 1274.6 1492.2 1274.9 1497.2 1275.2 1502.2 1275.5 1507.2 1275.8 1512.2 1276.1 1517.2 1276.4 1522.2 1276.6 1527.2 1276.9 1532.2 1277.1 1537.2 1277.3 1542.2 1277.5 1547.2 1277.6 1552.2 1277.8 1557.2 1278.0 1562.2 1278.1 1567.2 1278.3 1572.2 1278.5 1577.2 1278.6 1582.1 1278.8 1587.1 1279.0 1592.1 1279.2 1597.1 1279.4 1602.1 1279.7 1607.1 1279.9 1612.1 1280.1 1617.1 1280.4 1622.1 1280.6 1627.1 1280.9 1632.1 1281.1 1637.1 1281.4 1642.1 1281.6 1647.1 1281.9 1652.1 1282.1 1657.1 1282.4 1662.1 1282.6 1667.1 1282.9 1672.0 1283.1 1677.0 1283.3 1682.0 1283.5 1687.0 1283.7 1692.0 1283.9 1697.0 1284.1 1702.0 1284.2 1707.0 1284.4 1712.0 1284.5 1717.0 1284.6 1722.0 1284.7 1727.0 1284.8 1732.0 1284.9 1737.0 1285.0 1742.0 1285.1 1747.0 1285.2 1752.0 1285.4 1757.0 1285.5 1762.0 1285.7 1767.0 1285.9 1772.0 1286.1 1777.0 1286.3 1782.0 1286.5 1787.0 1286.7 1792.0 1287.0 1797.0 1287.2 1802.0 1287.4 1807.0 1287.6 1812.0 1287.8 1817.0 1287.9 1821.9 1288.1 1826.9 1288.2 1831.9 1288.3 1836.9 1288.4 1841.9 1288.5 1846.9 1288.5 1851.9 1288.6 1856.9 1288.6 1861.9 1288.7 1866.9 1288.8 1871.9 1288.8 1876.9 1288.9 1881.9 1289.0 1886.9 1289.0 1891.9 1289.1 1896.9 1289.2 1901.9 1289.3 1906.9 1289.4 1911.9 1289.5 1916.9 1289.6 1921.9 1289.7 1926.9 1289.8 1931.9 1289.9 1936.9 1290.0 1941.9 1290.1 1946.9 1290.1 1951.9 1290.2 1956.9 1290.2 1961.9 1290.3 1966.9 1290.3 1971.9 1290.4 1976.9 1290.4 1981.9 1290.4 1986.9 1290.4 1991.9 1290.5 1996.9 1290.5 1999.9 1290.5"/>
</g>
<rect x="1573.8" y="31.8" width="299.5" height="506.5" fill="#fff" stroke="#000" stroke-width="3.6"/>
<text class="lg" transform="translate(1591.4 107.8) scale(0.9680 1)">Depth (m)</text>
<rect x="1587.7" y="162.0" width="159.4" height="11.0" rx="3.5" ry="3.5" fill="#ff0000"/>
<text class="ll" transform="translate(1757.8 190.3) scale(0.9500 1)">1</text>
<rect x="1587.7" y="245.0" width="159.4" height="10.0" rx="3.5" ry="3.5" fill="#008080"/>
<text class="ll" transform="translate(1757.8 272.8) scale(0.9500 1)">3</text>
<rect x="1587.7" y="327.0" width="159.4" height="10.0" rx="3.5" ry="3.5" fill="#ff00ff"/>
<text class="ll" transform="translate(1757.8 354.8) scale(0.9500 1)">4</text>
<rect x="1587.7" y="409.0" width="159.4" height="11.0" rx="3.5" ry="3.5" fill="#000080"/>
<text class="ll" transform="translate(1757.8 437.2) scale(0.9500 1)">5.4</text>
<rect x="1587.7" y="491.0" width="159.4" height="11.0" rx="3.5" ry="3.5" fill="#990000"/>
<text class="ll" transform="translate(1757.8 519.2) scale(0.9500 1)">5.9</text>
</svg></body></html>
